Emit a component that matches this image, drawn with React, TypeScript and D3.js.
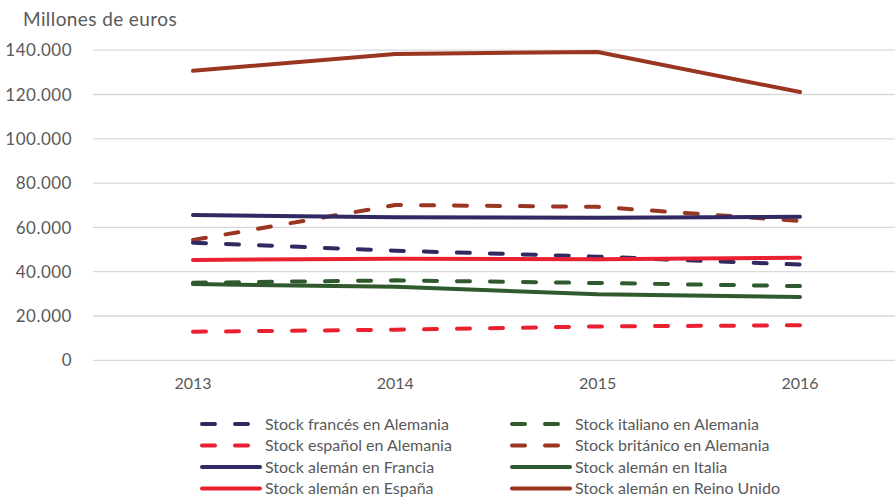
import * as d3 from 'd3';

const years = ['2013', '2014', '2015', '2016'];
const yTicks = [0, 20000, 40000, 60000, 80000, 100000, 120000, 140000];

const francesEnAlemania = [53100, 49500, 46800, 43200];
const italianoEnAlemania = [35000, 36100, 34900, 33500];
const espanolEnAlemania = [12900, 13800, 15300, 15800];
const britanicoEnAlemania = [54300, 70100, 69300, 62900];
const alemanEnFrancia = [65600, 64600, 64400, 64800];
const alemanEnItalia = [34400, 33200, 29800, 28600];
const alemanEnEspana = [45300, 45900, 45600, 46300];
const alemanEnReinoUnido = [130700, 138300, 139200, 121100];

const NAVY = '#2f2b62';
const RED = '#e8202f';
const GREEN = '#2f5a2d';
const BROWN = '#9a3522';

const series = [
  { name: 'Stock francés en Alemania', values: francesEnAlemania, color: NAVY, dashed: true },
  { name: 'Stock italiano en Alemania', values: italianoEnAlemania, color: GREEN, dashed: true },
  { name: 'Stock español en Alemania', values: espanolEnAlemania, color: RED, dashed: true },
  { name: 'Stock británico en Alemania', values: britanicoEnAlemania, color: BROWN, dashed: true },
  { name: 'Stock alemán en Francia', values: alemanEnFrancia, color: NAVY, dashed: false },
  { name: 'Stock alemán en Italia', values: alemanEnItalia, color: GREEN, dashed: false },
  { name: 'Stock alemán en España', values: alemanEnEspana, color: RED, dashed: false },
  { name: 'Stock alemán en Reino Unido', values: alemanEnReinoUnido, color: BROWN, dashed: false },
];

// draw order: dashed first, solid on top like the original
const drawOrder = [
  'Stock británico en Alemania',
  'Stock francés en Alemania',
  'Stock italiano en Alemania',
  'Stock español en Alemania',
  'Stock alemán en Reino Unido',
  'Stock alemán en Francia',
  'Stock alemán en España',
  'Stock alemán en Italia',
];

const WIDTH = 895;
const HEIGHT = 498;
const FONT = 'Lato, "Open Sans", sans-serif';
const TEXT = '#595959';
const DASH = '13,20';

export default function App() {
  const x = d3.scalePoint<string>().domain(years).range([193, 800]);
  const y = d3.scaleLinear().domain([0, 140000]).range([360.3, 50.2]);
  const fmt = (v: number) => d3.format(',')(v).replace(/,/g, '.');

  const line = d3
    .line<number>()
    .x((_, i) => x(years[i]) as number)
    .y((d) => y(d));

  const legendX = [200, 510];
  const legendY = [424, 445.5, 467, 488.5];

  return (
    <div style={{ position: 'fixed', left: 0, top: 0 }}>
      <svg width={WIDTH} height={HEIGHT} style={{ display: 'block', fontFamily: FONT }}>
        <rect width={WIDTH} height={HEIGHT} fill="#fff" />
        <text x={23} y={26} fontSize={19} letterSpacing={0.4} fill={TEXT}>
          Millones de euros
        </text>

        {yTicks.map((t) => (
          <g key={t}>
            <line x1={93} x2={WIDTH} y1={y(t)} y2={y(t)} stroke="#d9d9d9" strokeWidth={1.3} />
            <text x={72} y={y(t)} dy="0.36em" textAnchor="end" fontSize={17} letterSpacing={0.5} fill={TEXT}>
              {fmt(t)}
            </text>
          </g>
        ))}

        {years.map((yr) => (
          <text key={yr} x={x(yr)} y={389} textAnchor="middle" fontSize={16} fill={TEXT}>
            {yr}
          </text>
        ))}

        {drawOrder.map((n) => {
          const s = series.find((d) => d.name === n)!;
          return (
            <path
              key={n}
              d={line(s.values) || ''}
              fill="none"
              stroke={s.color}
              strokeWidth={4}
              strokeLinecap="round"
              strokeLinejoin="round"
              strokeDasharray={s.dashed ? DASH : undefined}
            />
          );
        })}

        {series.map((s, i) => {
          const lx = legendX[i % 2];
          const ly = legendY[Math.floor(i / 2)];
          return (
            <g key={s.name}>
              <line
                x1={lx + 2}
                x2={lx + 60}
                y1={ly}
                y2={ly}
                stroke={s.color}
                strokeWidth={4}
                strokeLinecap="round"
                strokeDasharray={s.dashed ? '13,20' : undefined}
              />
              <text x={lx + 65} y={ly} dy="0.35em" fontSize={16} fill={TEXT}>
                {s.name}
              </text>
            </g>
          );
        })}
      </svg>
    </div>
  );
}
